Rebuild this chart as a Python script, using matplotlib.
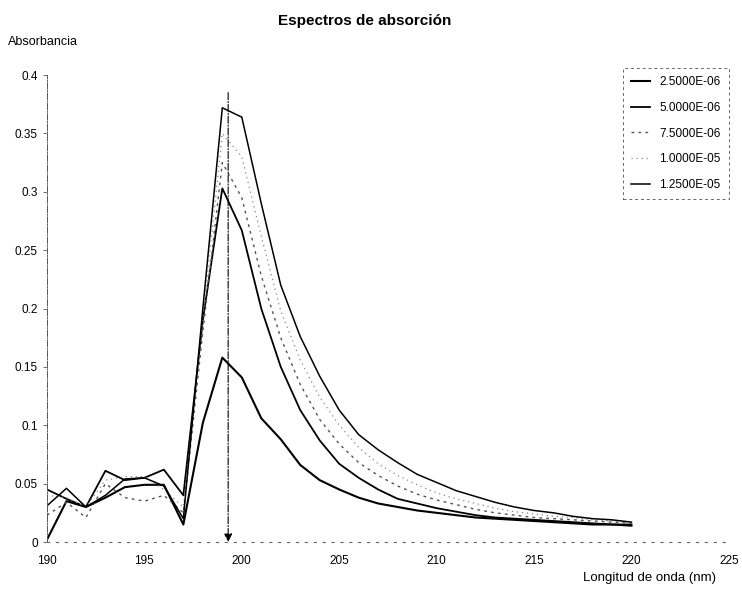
import matplotlib.pyplot as plt
import numpy as np
from matplotlib.ticker import FuncFormatter

plt.rcParams['font.family'] = ['Liberation Sans', 'DejaVu Sans']

# wavelength grid (nm)
wavelength = np.arange(190, 221)

# absorbance for each concentration (mol/L)
abs_2_5e6 = [0.002, 0.035, 0.030, 0.038, 0.047, 0.049, 0.049, 0.015, 0.102, 0.158,
             0.141, 0.106, 0.088, 0.066, 0.053, 0.045, 0.038, 0.033, 0.030, 0.027,
             0.025, 0.023, 0.021, 0.020, 0.019, 0.018, 0.017, 0.016, 0.015, 0.015,
             0.014]
abs_5_0e6 = [0.045, 0.037, 0.030, 0.061, 0.053, 0.055, 0.062, 0.040, 0.190, 0.303,
             0.267, 0.200, 0.150, 0.113, 0.087, 0.067, 0.055, 0.045, 0.037, 0.033,
             0.029, 0.026, 0.023, 0.021, 0.020, 0.019, 0.018, 0.017, 0.016, 0.015,
             0.015]
abs_7_5e6 = [0.023, 0.034, 0.021, 0.050, 0.038, 0.035, 0.040, 0.025, 0.180, 0.325,
             0.295, 0.228, 0.175, 0.135, 0.105, 0.084, 0.068, 0.057, 0.048, 0.041,
             0.036, 0.032, 0.028, 0.025, 0.023, 0.021, 0.020, 0.019, 0.018, 0.017,
             0.016]
abs_1_0e5 = [0.040, 0.038, 0.030, 0.053, 0.056, 0.056, 0.045, 0.030, 0.190, 0.350,
             0.330, 0.262, 0.198, 0.156, 0.124, 0.100, 0.081, 0.067, 0.057, 0.049,
             0.042, 0.037, 0.033, 0.029, 0.026, 0.024, 0.022, 0.021, 0.019, 0.018,
             0.017]
abs_1_25e5 = [0.031, 0.046, 0.030, 0.040, 0.054, 0.055, 0.048, 0.020, 0.200, 0.372,
              0.364, 0.290, 0.220, 0.176, 0.142, 0.113, 0.092, 0.079, 0.068, 0.058,
              0.051, 0.044, 0.039, 0.034, 0.030, 0.027, 0.025, 0.022, 0.020, 0.019,
              0.017]

labels = ['2.5000E-06', '5.0000E-06', '7.5000E-06', '1.0000E-05', '1.2500E-05']
series = [abs_2_5e6, abs_5_0e6, abs_7_5e6, abs_1_0e5, abs_1_25e5]

# wavelength of maximum absorption marked with the arrow
lambda_max = 199.3
arrow_top = 0.385

styles = [
    dict(color='black', lw=1.5, ls='-'),
    dict(color='black', lw=1.3, ls='-'),
    dict(color='#555555', lw=1.0, ls=(0, (2, 3))),
    dict(color='#888888', lw=0.9, ls=(0, (1, 3))),
    dict(color='black', lw=1.1, ls='-'),
]

fig = plt.figure(figsize=(7.42, 5.91), dpi=100)
ax = fig.add_axes([0.0633, 0.0829, 0.919, 0.790])

for y, lab, st in zip(series, labels, styles):
    ax.plot(wavelength, y, label=lab, **st)

# vertical arrow at the absorption maximum
ax.annotate('', xy=(lambda_max, 0.0), xytext=(lambda_max, arrow_top),
            arrowprops=dict(arrowstyle='-|>', color='black', lw=0.8,
                            linestyle='-.', mutation_scale=12,
                            shrinkA=0, shrinkB=0))

ax.set_xlim(190, 225)
ax.set_ylim(0, 0.4)
ax.set_xticks(np.arange(190, 226, 5))
ax.set_yticks(np.arange(0, 0.41, 0.05))
ax.yaxis.set_major_formatter(FuncFormatter(lambda v, p: f'{v:g}'))
ax.tick_params(axis='both', labelsize=8.5, length=3, width=0.6, color='#555555')
ax.tick_params(axis='x', length=0, pad=9)

for side in ['top', 'right']:
    ax.spines[side].set_visible(False)
ax.spines['left'].set_linestyle('-.')
ax.spines['left'].set_linewidth(0.7)
ax.spines['left'].set_color('#555555')
ax.spines['bottom'].set_linestyle((0, (2, 6)))
ax.spines['bottom'].set_linewidth(0.8)
ax.spines['bottom'].set_color('#666666')

leg = ax.legend(loc='upper right', bbox_to_anchor=(1.0, 1.015), borderaxespad=0,
                fontsize=8.5, handlelength=1.6, labelspacing=1.15, fancybox=False,
                framealpha=1, edgecolor='#666666', borderpad=0.7)
leg.get_frame().set_linestyle((0, (3, 3)))
leg.get_frame().set_linewidth(0.7)

fig.text(0.492, 0.965, 'Espectros de absorción', ha='center', va='center',
         fontsize=11, fontweight='bold')
fig.text(0.011, 0.929, 'Absorbancia', ha='left', va='center', fontsize=9)
fig.text(0.965, 0.022, 'Longitud de onda (nm)', ha='right', va='center', fontsize=9.5)

fig.savefig('out.png', dpi=100)
